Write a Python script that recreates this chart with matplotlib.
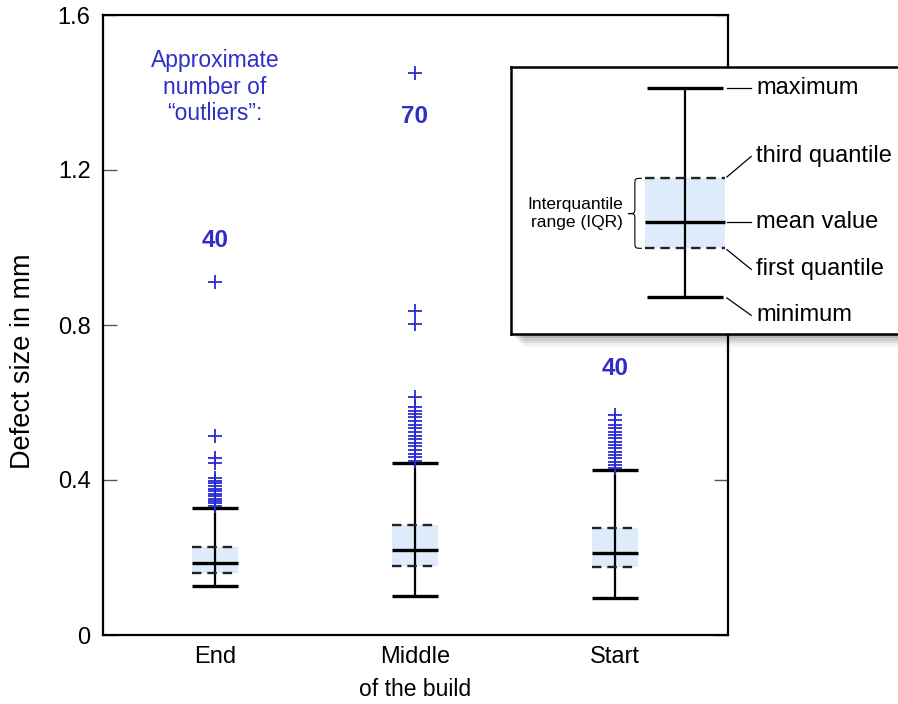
import matplotlib
matplotlib.use("Agg")
import matplotlib.pyplot as plt
from matplotlib.path import Path
from matplotlib.patches import PathPatch, Rectangle

plt.rcParams["font.family"] = ["Liberation Sans", "DejaVu Sans"]

# per-position summary of defect sizes (mm)
positions = ["End", "Middle", "Start"]
whisker_low = [0.126, 0.100, 0.096]
first_q = [0.160, 0.178, 0.175]
mean_val = [0.186, 0.219, 0.212]
third_q = [0.227, 0.284, 0.277]
whisker_high = [0.328, 0.445, 0.426]

outliers_end = [0.911, 0.514, 0.458, 0.443, 0.404, 0.397, 0.391, 0.384, 0.378,
                0.372, 0.365, 0.359, 0.352, 0.347, 0.340, 0.334]
outliers_middle = [1.450, 0.837, 0.802, 0.614, 0.588, 0.579, 0.571, 0.562,
                   0.551, 0.542, 0.533, 0.524, 0.514, 0.505, 0.496, 0.487,
                   0.477, 0.468, 0.459, 0.450]
outliers_start = [0.568, 0.555, 0.542, 0.533, 0.525, 0.516, 0.508, 0.499,
                  0.490, 0.482, 0.473, 0.465, 0.456, 0.447, 0.439, 0.430]
outliers = [outliers_end, outliers_middle, outliers_start]

outlier_counts = ["40", "70", "40"]
count_y = [1.018, 1.339, 0.689]

yticks = [0, 0.4, 0.8, 1.2, 1.6]
ytick_labels = ["0", "0.4", "0.8", "1.2", "1.6"]

BOX_FILL = "#ddebfa"
BLUE = "#2a2ad4"
TEXT_BLUE = "#2f2fc8"

fig = plt.figure(figsize=(8.98, 7.04), dpi=100)
ax = fig.add_axes([103 / 898, 69 / 704, 625 / 898, 620 / 704])

half = 0.115
for i, name in enumerate(positions):
    x = i + 1
    ax.fill_between([x - half, x + half], first_q[i], third_q[i],
                    color=BOX_FILL, lw=0, zorder=1)
    ax.vlines(x, whisker_low[i], whisker_high[i], color="black", lw=1.6, zorder=3)
    ax.hlines([whisker_low[i], whisker_high[i], mean_val[i]],
              x - half, x + half, color="black", lw=2.4, zorder=4)
    ax.hlines([first_q[i], third_q[i]], x - half, x + half, color="#222222",
              lw=1.7, linestyles=(0, (4, 2.5)), zorder=4)
    ax.plot([x] * len(outliers[i]), outliers[i], ls="none", marker="+",
            ms=9.5, mew=1.3, color=BLUE, zorder=5)
    ax.text(x, count_y[i], outlier_counts[i], ha="center", va="center",
            fontsize=17.5, fontweight="bold", color=TEXT_BLUE)

ax.text(1, 1.414, "Approximate\nnumber of\n\u201coutliers\u201d:", ha="center",
        va="center", fontsize=16.5, color=TEXT_BLUE, linespacing=1.2)

ax.set_xlim(0.44, 3.565)
ax.set_ylim(0, 1.6)
ax.set_xticks([1, 2, 3])
ax.set_xticklabels(positions)
ax.set_yticks(yticks)
ax.set_yticklabels(ytick_labels)
ax.tick_params(axis="x", length=0, labelsize=17, pad=8)
ax.tick_params(axis="y", direction="in", length=10, width=1, color="#555555",
               labelsize=17, pad=9, right=True)
ax.set_xlabel("of the build", fontsize=16.5, labelpad=7)
ax.set_ylabel("Defect size in mm", fontsize=19.5)
ax.yaxis.set_label_coords(-0.108, 0.442)
for sp in ax.spines.values():
    sp.set_linewidth(1.6)

# soft shadow under the key panel
ix0, iy0, iw, ih = 511 / 898, 370 / 704, 399 / 898, 267 / 704
for k, a in enumerate([0.12, 0.10, 0.08, 0.06, 0.04, 0.03]):
    d = (k + 1) * 2.2
    fig.patches.append(Rectangle((ix0 + d / 898, iy0 - d / 704), iw, ih,
                                 transform=fig.transFigure, facecolor="black",
                                 alpha=a, lw=0, zorder=5))

# key panel explaining the box glyph
key = fig.add_axes([ix0, iy0, iw, ih], zorder=10)
key.set_xlim(0, 1)
key.set_ylim(0, 1)
key.set_xticks([])
key.set_yticks([])
for sp in key.spines.values():
    sp.set_linewidth(1.8)

key_low, key_q1, key_mean, key_q3, key_high = 0.140, 0.321, 0.421, 0.583, 0.920
kx, cap_half, box_half = 0.436, 0.096, 0.10
key.fill_between([kx - box_half, kx + box_half], key_q1, key_q3,
                 color=BOX_FILL, lw=0)
key.vlines(kx, key_low, key_high, color="black", lw=1.6)
key.hlines([key_low, key_high], kx - cap_half, kx + cap_half, color="black", lw=2.4)
key.hlines(key_mean, kx - box_half, kx + box_half, color="black", lw=2.4)
key.hlines([key_q1, key_q3], kx - box_half, kx + box_half, color="#222222",
           lw=1.7, linestyles=(0, (4, 2.5)))

lx0, lx1, tx = 0.541, 0.602, 0.614
key_labels = [
    ("maximum", key_high, key_high),
    ("third quantile", key_q3 + 0.005, 0.665),
    ("mean value", key_mean, key_mean),
    ("first quantile", key_q1 - 0.005, 0.242),
    ("minimum", key_low - 0.005, 0.07),
]
for label, y0, y1 in key_labels:
    key.plot([lx0, lx1], [y0, y1], color="black", lw=0.9)
    key.text(tx, y1, label, ha="left", va="center", fontsize=17)

# curly brace marking the IQR
bl, br = 0.293, 0.328
bm = (bl + br) / 2
ym, h = key_mean + 0.03, 0.025
verts = [
    (br, key_q3), (bm, key_q3), (bm, key_q3), (bm, key_q3 - h),
    (bm, ym + h),
    (bm, ym), (bm, ym), (bl, ym),
    (bm, ym), (bm, ym), (bm, ym - h),
    (bm, key_q1 + h),
    (bm, key_q1), (bm, key_q1), (br, key_q1),
]
codes = [Path.MOVETO, Path.CURVE4, Path.CURVE4, Path.CURVE4,
         Path.LINETO,
         Path.CURVE4, Path.CURVE4, Path.CURVE4,
         Path.CURVE4, Path.CURVE4, Path.CURVE4,
         Path.LINETO,
         Path.CURVE4, Path.CURVE4, Path.CURVE4]
key.add_patch(PathPatch(Path(verts, codes), facecolor="none", edgecolor="black", lw=0.8))
key.text(0.281, ym, "Interquantile\nrange (IQR)", ha="right", va="center",
         fontsize=12.5, linespacing=1.2)

fig.savefig("out.png", dpi=100)
